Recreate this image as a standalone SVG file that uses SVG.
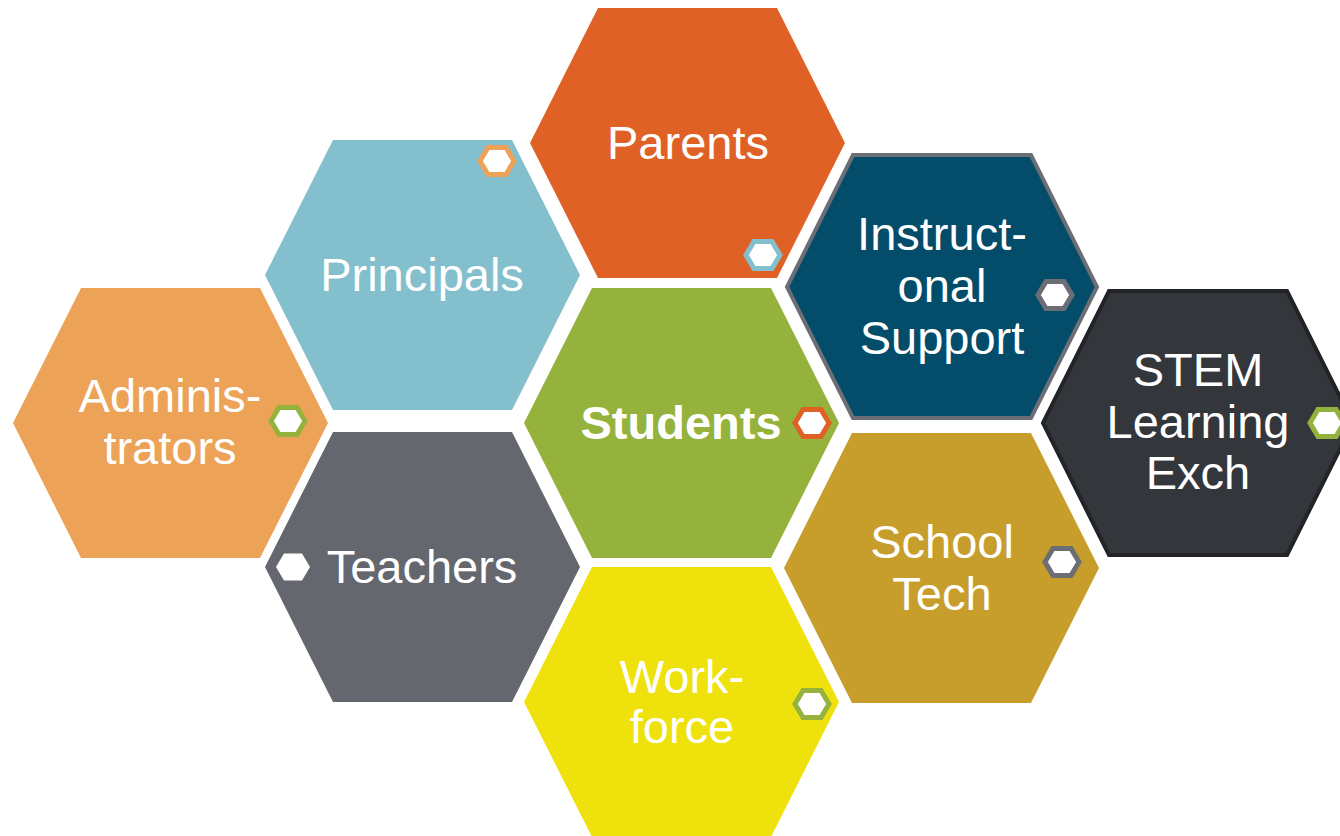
<svg xmlns="http://www.w3.org/2000/svg" width="1340" height="836" viewBox="0 0 1340 836">
<defs>
<style>
.t{font-family:"Liberation Sans",Arial,sans-serif;font-size:47px;fill:#ffffff;text-anchor:middle}
.b{font-weight:bold}
.s{fill:#ffffff;stroke-width:5}
</style>
<polygon id="hex" points="-157.5,0 -89.5,-135 89.5,-135 157.5,0 89.5,135 -89.5,135"/>
<polygon id="sh" points="-17,0 -9,-13.5 9,-13.5 17,0 9,13.5 -9,13.5"/>
</defs>
<rect width="1340" height="836" fill="#ffffff"/>
<g id="connectors"></g>
<g id="parents">
<use href="#hex" x="687.5" y="143" fill="#df6126"/>
<use href="#sh" x="763" y="255" class="s" stroke="#84bfcd"/>
<text class="t" x="688" y="159">Parents</text>
</g>
<g id="principals">
<use href="#hex" x="422.5" y="275" fill="#84bfcd"/>
<use href="#sh" x="497" y="161" class="s" stroke="#eca257"/>
<text class="t" x="422" y="291">Principals</text>
</g>
<g id="administrators">
<use href="#hex" x="170.5" y="423" fill="#eca257"/>
<use href="#sh" x="288" y="421" class="s" stroke="#95b23d"/>
<text class="t" x="170" y="412">Adminis-</text>
<text class="t" x="170" y="464">trators</text>
</g>
<g id="students">
<use href="#hex" x="681.5" y="423" fill="#95b23d"/>
<use href="#sh" x="812" y="423" class="s" stroke="#df6126"/>
<text class="t b" x="681" y="439">Students</text>
</g>
<g id="teachers">
<use href="#hex" x="422.5" y="567" fill="#65676e"/>
<use href="#sh" x="293" y="567" fill="#ffffff"/>
<text class="t" x="422" y="583">Teachers</text>
</g>
<g id="workforce">
<use href="#hex" x="681.5" y="702" fill="#efe20c"/>
<use href="#sh" x="812" y="704" class="s" stroke="#95b23d"/>
<text class="t" x="682" y="693">Work-</text>
<text class="t" x="682" y="743">force</text>
</g>
<g id="instructional-support">
<polygon points="787,287 853,155 1031,155 1097,287 1031,418 853,418" fill="#034d6b" stroke="#6b6e74" stroke-width="4"/>
<use href="#sh" x="1055" y="295" class="s" stroke="#6b6e74"/>
<text class="t" x="942" y="250">Instruct-</text>
<text class="t" x="942" y="302">onal</text>
<text class="t" x="942" y="354">Support</text>
</g>
<g id="school-tech">
<use href="#hex" x="941.5" y="568" fill="#c79e2b"/>
<use href="#sh" x="1062" y="562" class="s" stroke="#6b6e74"/>
<text class="t" x="942" y="558">School</text>
<text class="t" x="942" y="610">Tech</text>
</g>
<g id="stem-learning-exch">
<polygon points="1043,423 1109,291 1287,291 1353,423 1287,555 1109,555" fill="#33363b" stroke="#222428" stroke-width="4"/>
<use href="#sh" x="1327" y="423" class="s" stroke="#95b23d"/>
<text class="t" x="1198" y="386">STEM</text>
<text class="t" x="1198" y="438">Learning</text>
<text class="t" x="1198" y="489">Exch</text>
</g>
</svg>
